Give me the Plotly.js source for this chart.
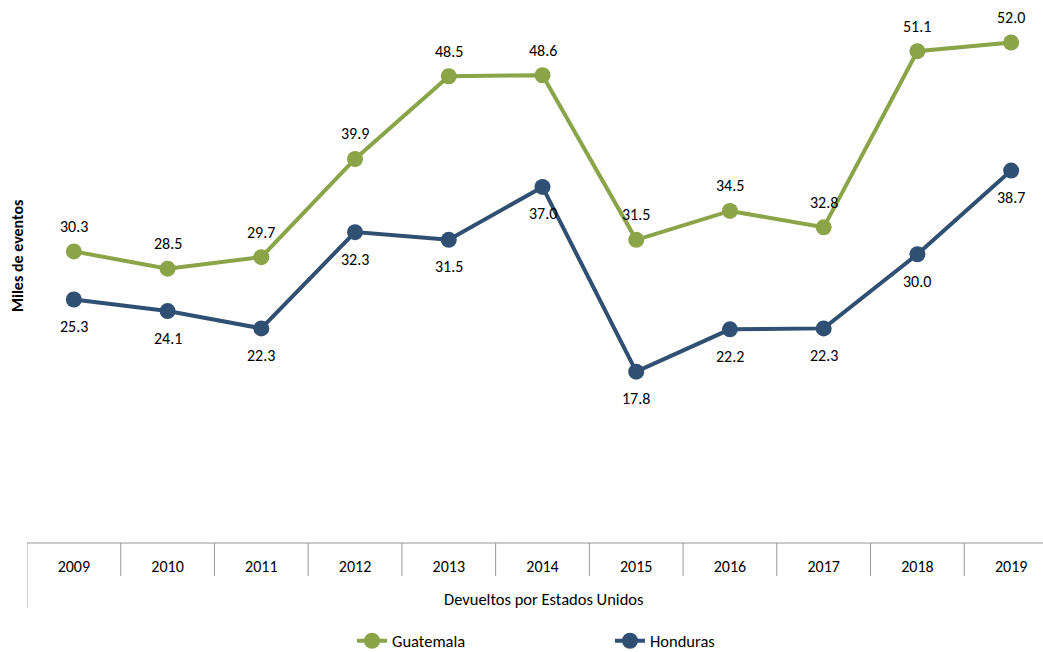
<!DOCTYPE html>
<html><head><meta charset="utf-8">
<script src="https://cdn.plot.ly/plotly-3.0.1.min.js"></script>
<style>body{margin:0;background:#fff}#c{width:1043px;height:652px}</style>
</head><body><div id="c"></div>
<script>
var years = ['2009','2010','2011','2012','2013','2014','2015','2016','2017','2018','2019'];
var guatemala = [30.3,28.5,29.7,39.9,48.5,48.6,31.5,34.5,32.8,51.1,52.0];
var honduras = [25.3,24.1,22.3,32.3,31.5,37.0,17.8,22.2,22.3,30.0,38.7];
var groupLabel = 'Devueltos por Estados Unidos';
var yTitle = 'Miles de eventos';

var FONT = 'Calibri, Carlito, Lato, sans-serif';
var GREEN = '#8BA448', BLUE = '#2F5072';

var traces = [
  {x: years, y: guatemala, name: 'Guatemala', type: 'scatter', mode: 'lines+markers',
   line: {color: GREEN, width: 4}, marker: {color: GREEN, size: 16}},
  {x: years, y: honduras, name: 'Honduras', type: 'scatter', mode: 'lines+markers',
   line: {color: BLUE, width: 4}, marker: {color: BLUE, size: 16}}
];

var ann = [];
years.forEach(function(yr, i){
  ann.push({xref: 'x', yref: 'y', x: i, y: guatemala[i], text: guatemala[i].toFixed(1), showarrow: false, yshift: 25,
            font: {family: FONT, size: 16, color: '#000'}});
  ann.push({xref: 'x', yref: 'y', x: i, y: honduras[i], text: honduras[i].toFixed(1), showarrow: false, yshift: -27,
            font: {family: FONT, size: 16, color: '#000'}});
});
var PH = 538;
function py(p){ return (543 - p) / PH; }
ann.push({xref: 'paper', yref: 'paper', x: (17-27)/1016, y: py(256), text: '<b>' + yTitle + '</b>',
          textangle: -90, showarrow: false, xanchor: 'center', yanchor: 'middle',
          font: {family: FONT, size: 16, color: '#000'}});
ann.push({xref: 'paper', yref: 'paper', x: (543-27)/1016, y: py(599), text: groupLabel,
          showarrow: false, xanchor: 'center', yanchor: 'middle',
          font: {family: FONT, size: 16.5, color: '#000'}});

var shapes = [];
shapes.push({type: 'line', xref: 'paper', yref: 'paper', x0: 0, x1: 1.02, y0: 0, y1: 0,
             line: {color: '#999', width: 1}});
for (var i = 0; i < years.length; i++) {
  var bottom = (i === 0) ? py(608) : py(576);
  shapes.push({type: 'line', xref: 'x', yref: 'paper', x0: i - 0.5, x1: i - 0.5, y0: 0, y1: bottom,
               line: {color: '#999', width: 1}});
}

var layout = {
  width: 1043, height: 652,
  margin: {l: 27, r: 0, t: 5, b: 109, autoexpand: false},
  paper_bgcolor: '#fff', plot_bgcolor: '#fff',
  showlegend: true,
  legend: {orientation: 'h', x: (352-27)/1016, xanchor: 'left', y: py(641), yanchor: 'middle',
           entrywidth: 213, entrywidthmode: 'pixels',
           font: {family: FONT, size: 16.5, color: '#000'}},
  xaxis: {type: 'category', range: [-0.5, 10.34], showgrid: false, zeroline: false,
          showline: false, ticks: '', ticklabelstandoff: 12,
          tickfont: {family: FONT, size: 16, color: '#000'}, fixedrange: true},
  yaxis: {range: [0, 55.9], showticklabels: false, showgrid: false, zeroline: false,
          showline: false, ticks: '', fixedrange: true},
  annotations: ann, shapes: shapes
};
Plotly.newPlot('c', traces, layout, {displayModeBar: false, staticPlot: true});
</script></body></html>
